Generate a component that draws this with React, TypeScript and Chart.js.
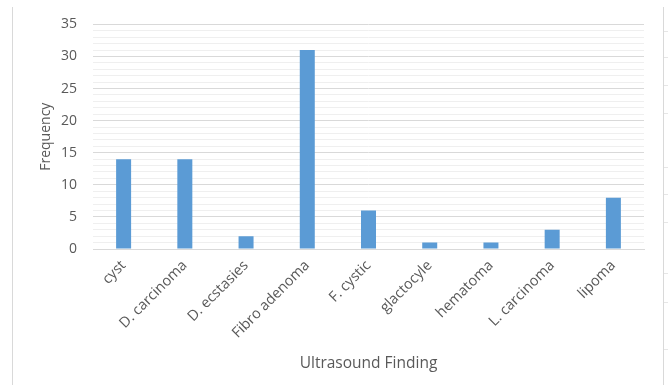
import React, { useEffect, useRef } from "react";
import { Chart, registerables } from "chart.js";

Chart.register(...registerables);

const categories = [
  "cyst",
  "D. carcinoma",
  "D. ecstasies",
  "Fibro adenoma",
  "F. cystic",
  "glactocyle",
  "hematoma",
  "L. carcinoma",
  "lipoma",
];
const frequency = [14, 14, 2, 31, 6, 1, 1, 3, 8];
const yMax = 35;
const yLabelStep = 5;
const yTitle = "Frequency";
const xTitle = "Ultrasound Finding";

const FONT = "'Open Sans', Lato, sans-serif";
const TEXT = "#595959";

export default function App() {
  const ref = useRef<HTMLCanvasElement | null>(null);

  useEffect(() => {
    if (!ref.current) return;
    const chart = new Chart(ref.current, {
      type: "bar",
      data: {
        labels: categories,
        datasets: [
          {
            data: frequency,
            backgroundColor: "#5B9BD5",
            borderWidth: 0,
            barPercentage: 0.245,
            categoryPercentage: 1,
          },
        ],
      },
      options: {
        animation: false,
        responsive: false,
        maintainAspectRatio: false,
        layout: { padding: { left: 38, right: 24, top: 24, bottom: 12 } },
        plugins: { legend: { display: false }, tooltip: { enabled: false } },
        scales: {
          x: {
            grid: { display: false, drawTicks: false },
            border: { display: true, color: "#d9d9d9" },
            ticks: {
              color: TEXT,
              font: { family: FONT, size: 14.5 },
              minRotation: 45,
              maxRotation: 45,
              padding: 8,
              autoSkip: false,
            },
            title: {
              display: true,
              text: xTitle,
              color: TEXT,
              font: { family: FONT, size: 15.5 },
              padding: { top: 0, bottom: 0 },
            },
            afterFit: (s: any) => {
              s.height = 124;
            },
          },
          y: {
            min: 0,
            max: yMax,
            grid: {
              drawTicks: false,
              color: (ctx: any) =>
                ctx.tick && ctx.tick.value % yLabelStep === 0 ? "#d9d9d9" : "#efefef",
              lineWidth: 1,
            },
            border: { display: false },
            ticks: {
              stepSize: 1,
              color: TEXT,
              font: { family: FONT, size: 14 },
              padding: 16,
              autoSkip: false,
              callback: (v: any) => (Number(v) % yLabelStep === 0 ? String(v) : ""),
            },
            title: {
              display: true,
              text: yTitle,
              color: TEXT,
              font: { family: FONT, size: 14 },
              padding: { top: 0, bottom: 0 },
            },
            afterFit: (s: any) => {
              s.width = 93 - 38;
            },
          },
        },
      },
    });
    return () => chart.destroy();
  }, []);

  const rightTicks = [31, 57, 85, 113, 167, 194, 222, 273, 302, 349];

  return (
    <div
      style={{
        position: "fixed",
        left: 0,
        top: 0,
        width: 668,
        height: 385,
        background: "#fff",
      }}
    >
      <canvas ref={ref} width={668} height={385} style={{ display: "block" }} />
      <div
        style={{
          position: "absolute",
          left: 12,
          top: 7,
          width: 1,
          height: 378,
          background: "#d9d9d9",
        }}
      />
      <div
        style={{
          position: "absolute",
          left: 663,
          top: 7,
          width: 1,
          height: 378,
          background: "#d9d9d9",
        }}
      />
      {rightTicks.map((t) => (
        <div
          key={t}
          style={{
            position: "absolute",
            left: 664,
            top: t,
            width: 4,
            height: 1,
            background: "#e6e6e6",
          }}
        />
      ))}
    </div>
  );
}
